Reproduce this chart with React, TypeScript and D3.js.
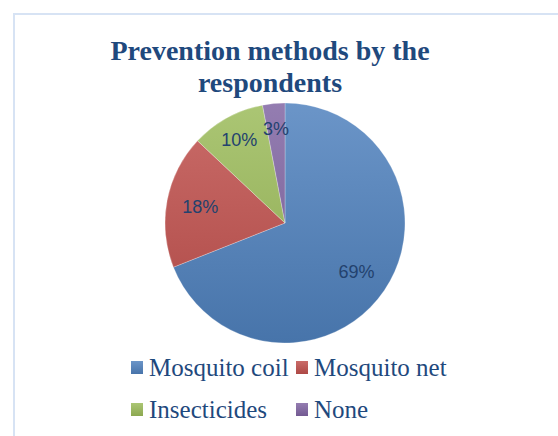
import React from 'react';
import * as d3 from 'd3';

const categories = ['Mosquito coil', 'Mosquito net', 'Insecticides', 'None'];
const values = [69, 18, 10, 3];
const colors = ['#4F81BD', '#C0504D', '#9BBB59', '#8064A2'];
const title = ['Prevention methods by the', 'respondents'];

const W = 558;
const H = 436;

const App: React.FC = () => {
    const cx = 285;
    const cy = 223;
    const r = 120;

    const pie = d3.pie<number>().sort(null).value(d => d)(values);
    const arc = d3.arc<d3.PieArcDatum<number>>().innerRadius(0).outerRadius(r);
    const total = d3.sum(values);

    // small slices get their label pushed a bit further out (like Excel's best fit)
    const labelPos = (d: d3.PieArcDatum<number>) => {
        const lr = d.data / total < 0.12 ? r * 0.79 : r * 0.72;
        return d3.arc<d3.PieArcDatum<number>>().innerRadius(lr).outerRadius(lr).centroid(d);
    };

    // legend layout: 2 columns, 2 rows
    const legendX = d3.scaleOrdinal<number, number>().domain([0, 1]).range([131, 296]);
    const legendY = d3.scaleOrdinal<number, number>().domain([0, 1]).range([368, 410]);

    const top = (c: string) => d3.interpolateRgb(c, '#ffffff')(0.16);
    const bottom = (c: string) => d3.interpolateRgb(c, '#000000')(0.1);

    return (
        <div style={{ position: 'absolute', left: 0, top: 0 }}>
            <svg width={W} height={H} style={{ display: 'block', background: '#fff' }}>
                <defs>
                    {colors.map((c, i) => (
                        <linearGradient key={i} id={`g${i}`} gradientUnits="userSpaceOnUse"
                            x1={0} y1={-r} x2={0} y2={r}>
                            <stop offset="0%" stopColor={top(c)} />
                            <stop offset="100%" stopColor={bottom(c)} />
                        </linearGradient>
                    ))}
                    {colors.map((c, i) => (
                        <linearGradient key={i} id={`lg${i}`} x1="0" y1="0" x2="0" y2="1">
                            <stop offset="0%" stopColor={top(c)} />
                            <stop offset="100%" stopColor={bottom(c)} />
                        </linearGradient>
                    ))}
                </defs>
                <path d={`M14,${H} L14,14 L${W},14`} fill="none" stroke="#d7e3f4" strokeWidth={2} />
                {title.map((t, i) => (
                    <text key={i} x={270} y={60 + i * 32} textAnchor="middle"
                        fontFamily="'Liberation Serif', 'Times New Roman', serif" fontWeight="bold"
                        fontSize={28} fill="#1F497D">{t}</text>
                ))}
                <g transform={`translate(${cx},${cy})`}>
                    {pie.map((d, i) => (
                        <path key={i} d={arc(d) || ''} fill={`url(#g${i})`}
                            stroke="#fff" strokeWidth={0.5} strokeOpacity={0.5} />
                    ))}
                    {pie.map((d, i) => {
                        const [lx, ly] = labelPos(d);
                        return (
                            <text key={i} x={lx} y={ly} textAnchor="middle" dominantBaseline="central"
                                fontFamily="'Liberation Sans', Arial, sans-serif" fontSize={18}
                                fill="#23426e">{`${Math.round((d.data / total) * 100)}%`}</text>
                        );
                    })}
                </g>
                {categories.map((c, i) => {
                    const x = legendX(i % 2);
                    const y = legendY(Math.floor(i / 2));
                    return (
                        <g key={c}>
                            <rect x={x} y={y - 7} width={12} height={13} fill={`url(#lg${i})`} />
                            <text x={x + 18} y={y + 8}
                                fontFamily="'Liberation Serif', 'Times New Roman', serif"
                                fontSize={25} fill="#1F497D">{c}</text>
                        </g>
                    );
                })}
            </svg>
        </div>
    );
};

export default App;
